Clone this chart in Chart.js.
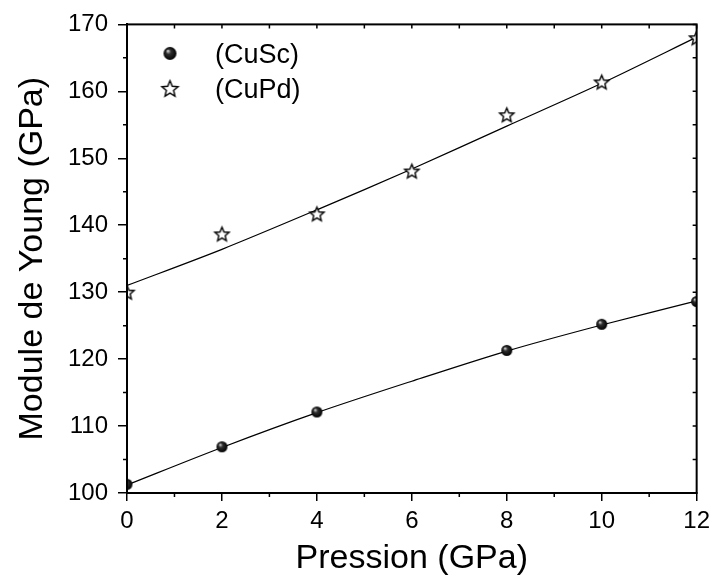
<!DOCTYPE html>
<html>
<head>
<meta charset="utf-8">
<script src="https://cdn.jsdelivr.net/npm/chart.js@4.4.0/dist/chart.umd.min.js"></script>
<style>
html, body { margin: 0; padding: 0; background: #fff; }
</style>
</head>
<body>
<canvas id="myChart" width="716" height="579"></canvas>
<script>
// Pression (GPa)
var pressure = [0, 2, 4, 6, 8, 10, 12];
var cuScPressure = [0, 2, 4, 8, 10, 12];
// Module de Young (GPa)
var cuScYoung = [101.3, 106.9, 112.1, 121.3, 125.2, 128.6];
var cuPdYoung = [130.0, 138.7, 141.7, 148.1, 156.5, 161.4, 168.0];
// fitted curves
var cuScFit = [101.2, 106.8, 112.0, 116.7, 121.2, 125.1, 128.7];
var cuPdFit = [131.0, 136.4, 142.3, 148.4, 154.8, 161.2, 168.1];
var xTicks = [0, 2, 4, 6, 8, 10, 12];
var yTicks = [100, 110, 120, 130, 140, 150, 160, 170];

var FONT = "'Liberation Sans', Arial, sans-serif";
Chart.defaults.font.family = FONT;
Chart.defaults.color = '#000';

function pairs(xs, ys) {
    return xs.map(function (x, i) { return { x: x, y: ys[i] }; });
}

// black ball with a highlight
function sphere(r) {
    var c = document.createElement('canvas');
    c.width = c.height = 2 * r + 2;
    var g = c.getContext('2d');
    var cx = r + 1, cy = r + 1;
    var grad = g.createRadialGradient(cx - r * 0.35, cy - r * 0.4, r * 0.05, cx, cy, r);
    grad.addColorStop(0, '#d8d8d8');
    grad.addColorStop(0.35, '#303030');
    grad.addColorStop(1, '#000');
    g.fillStyle = grad;
    g.beginPath();
    g.arc(cx, cy, r, 0, Math.PI * 2);
    g.fill();
    return c;
}

// open five point star
function star(r) {
    var c = document.createElement('canvas');
    var s = Math.ceil(2 * r + 4);
    c.width = c.height = s;
    var g = c.getContext('2d');
    var cx = s / 2, cy = s / 2 + r * 0.1;
    g.beginPath();
    for (var i = 0; i < 10; i++) {
        var rr = i % 2 ? r * 0.45 : r;
        var a = -Math.PI / 2 + i * Math.PI / 5;
        g.lineTo(cx + rr * Math.cos(a), cy + rr * Math.sin(a));
    }
    g.closePath();
    g.fillStyle = '#fff';
    g.fill();
    g.lineWidth = 1.4;
    g.strokeStyle = '#000';
    g.stroke();
    return c;
}

var ball = sphere(5.5), ballBig = sphere(6.5);
var starSmall = star(7.5), starBig = star(8.5);

// frame, minor ticks and inside ticks
var framePlugin = {
    id: 'frame',
    afterDatasetsDraw: function (chart) {
        var ctx = chart.ctx, a = chart.chartArea;
        var xs = chart.scales.x, ys = chart.scales.y;
        ctx.save();
        ctx.strokeStyle = '#000';
        ctx.lineWidth = 2;
        ctx.strokeRect(a.left, a.top, a.right - a.left, a.bottom - a.top);
        ctx.lineWidth = 1.5;
        ctx.beginPath();
        for (var v = xs.min; v <= xs.max; v += 1) {
            var px = xs.getPixelForValue(v);
            if (v % 2) { ctx.moveTo(px, a.bottom); ctx.lineTo(px, a.bottom + 4); }
            ctx.moveTo(px, a.top); ctx.lineTo(px, a.top + 4);
        }
        for (var w = ys.min; w <= ys.max; w += 5) {
            var py = ys.getPixelForValue(w);
            if (w % 10) { ctx.moveTo(a.left, py); ctx.lineTo(a.left - 4, py); }
            ctx.moveTo(a.right, py); ctx.lineTo(a.right - 4, py);
        }
        ctx.stroke();
        ctx.restore();
    }
};

// legend in the upper left corner of the plot
var legendPlugin = {
    id: 'innerLegend',
    afterDraw: function (chart) {
        var ctx = chart.ctx, a = chart.chartArea;
        var items = chart.data.datasets.filter(function (d) { return d.legendIcon; });
        ctx.save();
        ctx.font = '27px ' + FONT;
        ctx.fillStyle = '#000';
        ctx.textBaseline = 'middle';
        items.forEach(function (d, i) {
            var y = a.top + 29 + i * 35;
            var icon = d.legendIcon;
            ctx.drawImage(icon, a.left + 43 - icon.width / 2, y - icon.height / 2);
            ctx.fillText(d.label, a.left + 88, y + 2);
        });
        ctx.restore();
    }
};

var ctx = document.getElementById('myChart').getContext('2d');
var chart = new Chart(ctx, {
    type: 'scatter',
    data: {
        datasets: [{
            label: '(CuSc)',
            data: pairs(cuScPressure, cuScYoung),
            pointStyle: ball,
            legendIcon: ballBig,
            showLine: false,
            order: 1
        }, {
            label: '(CuPd)',
            data: pairs(pressure, cuPdYoung),
            pointStyle: starSmall,
            legendIcon: starBig,
            showLine: false,
            order: 1
        }, {
            label: 'fit CuSc',
            data: pairs(pressure, cuScFit),
            showLine: true,
            pointRadius: 0,
            borderColor: '#000',
            borderWidth: 1.2,
            tension: 0.3,
            order: 2
        }, {
            label: 'fit CuPd',
            data: pairs(pressure, cuPdFit),
            showLine: true,
            pointRadius: 0,
            borderColor: '#000',
            borderWidth: 1.2,
            tension: 0.3,
            order: 2
        }]
    },
    options: {
        responsive: false,
        animation: false,
        devicePixelRatio: 1,
        layout: { padding: { top: 23, right: 14, left: 0, bottom: 0 } },
        plugins: {
            legend: { display: false },
            tooltip: { enabled: false }
        },
        scales: {
            x: {
                type: 'linear',
                min: 0,
                max: 12,
                afterBuildTicks: function (s) { s.ticks = xTicks.map(function (v) { return { value: v }; }); },
                afterFit: function (s) { s.height = 86; },
                ticks: { font: { size: 24 }, padding: 6, color: '#000' },
                grid: { display: true, drawOnChartArea: false, drawTicks: true, tickLength: 8, color: '#000', lineWidth: 1.5 },
                border: { display: true, color: '#000', width: 2 },
                title: { display: true, text: 'Pression (GPa)', font: { size: 34 }, padding: { top: 0, bottom: 0 }, color: '#000' }
            },
            y: {
                type: 'linear',
                min: 100,
                max: 170,
                afterBuildTicks: function (s) { s.ticks = yTicks.map(function (v) { return { value: v }; }); },
                afterFit: function (s) { s.width = 127; },
                ticks: { font: { size: 24 }, padding: 10, color: '#000' },
                grid: { display: true, drawOnChartArea: false, drawTicks: true, tickLength: 9, color: '#000', lineWidth: 1.5 },
                border: { display: true, color: '#000', width: 2 },
                title: { display: true, text: 'Module de Young (GPa)', font: { size: 34 }, padding: { top: 12, bottom: 0 }, color: '#000' }
            }
        }
    },
    plugins: [framePlugin, legendPlugin]
});
</script>
</body>
</html>
